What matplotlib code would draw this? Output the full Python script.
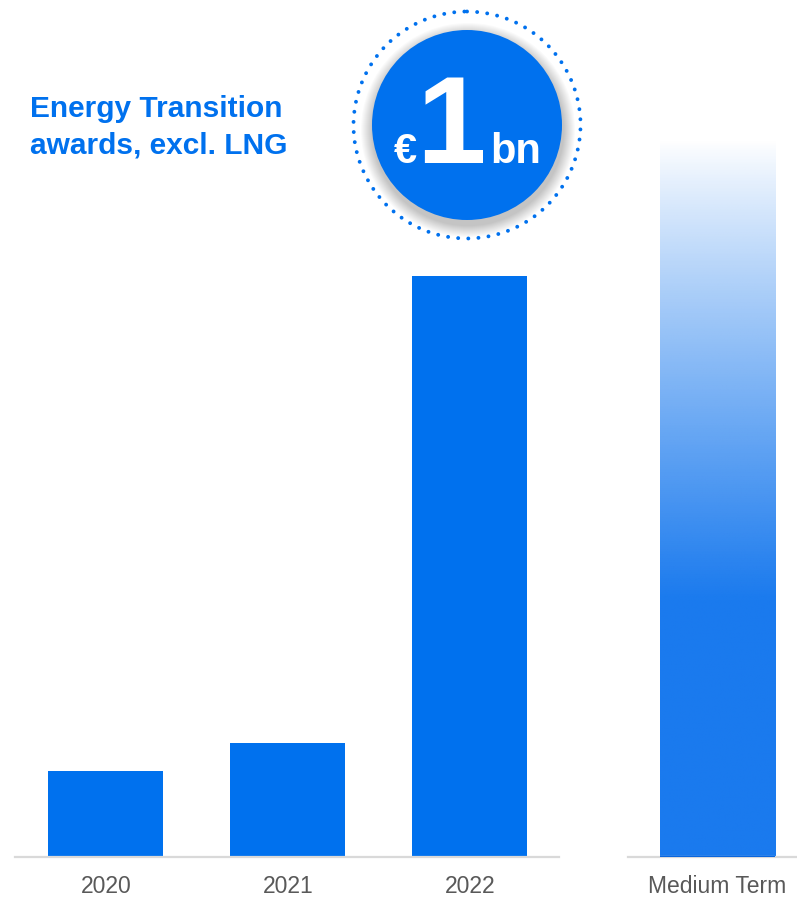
import numpy as np
import matplotlib
matplotlib.use("Agg")
import matplotlib.pyplot as plt
from matplotlib.patches import Circle

# ---- data ----
years = ["2020", "2021", "2022"]
awards_bn = [0.148, 0.196, 1.0]
outlook_label = ["Medium Term"]
outlook_bn = [1.235]
title_lines = ["Energy Transition", "awards, excl. LNG"]
badge_currency = "€"
badge_value = "1"
badge_unit = "bn"

BLUE = "#0071EE"
GRAD_BLUE = "#1A7AEE"
GRID = "#D9D9D9"
TICK = "#595959"

plt.rcParams['font.family'] = ['Liberation Sans', 'DejaVu Sans']

W, H = 797, 898
fig = plt.figure(figsize=(W / 100, H / 100), dpi=100)

base = (H - 857) / H
ytop = 1.475

# left axes (historic)
ax1 = fig.add_axes([15 / W, base, (559 - 15) / W, 1 - base])
x = np.arange(len(years))
ax1.bar(x, awards_bn, width=0.632, color=BLUE, zorder=2)
ax1.set_xlim(-0.5, 2.49)
ax1.set_ylim(0, ytop)
ax1.set_xticks(x)
ax1.set_xticklabels(years)

# right axes (outlook)
ax2 = fig.add_axes([628 / W, base, (W - 628) / W, 1 - base])
bw = 0.632
for i, v in enumerate(outlook_bn):
    frac = np.linspace(0, 1, 256)  # 0 bottom -> 1 top
    alpha = np.clip((1 - frac) / 0.64, 0, 1) ** 0.9
    rgba = np.zeros((256, 1, 4))
    c = matplotlib.colors.to_rgb(GRAD_BLUE)
    rgba[..., 0] = c[0]
    rgba[..., 1] = c[1]
    rgba[..., 2] = c[2]
    rgba[:, 0, 3] = alpha
    ax2.imshow(rgba, extent=[i - bw / 2, i + bw / 2, 0, v], origin='lower',
               aspect='auto', zorder=2, interpolation='bilinear')
    ax2.plot([i - bw / 2, i + bw / 2], [0, 0], color="#0A66DD", lw=1.5,
             zorder=4, solid_capstyle='butt')
ax2.set_xticks([0])
ax2.set_xticklabels(outlook_label)
ax2.set_xlim(-0.489, 0.439)
ax2.set_ylim(0, ytop)

for ax in (ax1, ax2):
    for s in ("top", "right", "left"):
        ax.spines[s].set_visible(False)
    ax.spines["bottom"].set_color(GRID)
    ax.spines["bottom"].set_linewidth(1.6)
    ax.spines["bottom"].set_zorder(3)
    ax.set_yticks([])
    ax.tick_params(axis='x', length=0, pad=13, labelsize=16.5, labelcolor=TICK)
    ax.patch.set_alpha(0)

# overlay in pixel coords
ov = fig.add_axes([0, 0, 1, 1])
ov.set_xlim(0, W)
ov.set_ylim(H, 0)
ov.axis('off')
ov.patch.set_alpha(0)

for k, line in enumerate(title_lines):
    ov.text(30, 117 + 36 * k, line, color=BLUE, fontsize=21.5, fontweight='bold',
            ha='left', va='baseline')

cx, cy, r = 467, 125, 95
# shadow
for k in range(12):
    ov.add_patch(Circle((cx + 1, cy + 5), r + 12 - k, color='black',
                        alpha=0.018, lw=0, zorder=1))
ov.add_patch(Circle((cx, cy), r, color=BLUE, lw=0, zorder=2))
ov.add_patch(Circle((cx, cy), 113.5, fill=False, edgecolor=BLUE, lw=2.8,
                    linestyle=(0, (0.01, 2.6)), capstyle='round', zorder=2))
ov.text(405, 163, badge_currency, color='white', fontsize=30, fontweight='bold',
        ha='center', va='baseline', zorder=3)
ov.text(451, 163, badge_value, color='white', fontsize=90, fontweight='bold',
        ha='center', va='baseline', zorder=3)
ov.text(516, 163, badge_unit, color='white', fontsize=30, fontweight='bold',
        ha='center', va='baseline', zorder=3)

fig.savefig("out.png", dpi=100)
